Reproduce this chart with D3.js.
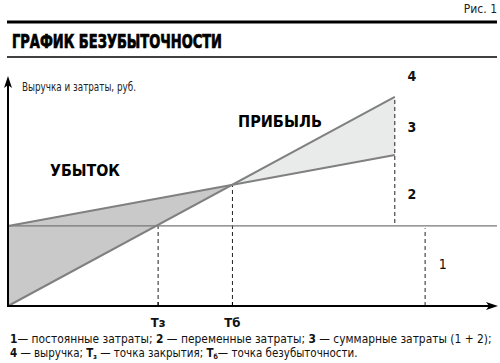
<!DOCTYPE html>
<html><head><meta charset="utf-8">
<script src="https://cdn.jsdelivr.net/npm/d3@7"></script>
<style>
html,body{margin:0;padding:0;background:#fff;}
svg{display:block;font-family:"Liberation Sans Narrow","DejaVu Sans Condensed","Arial Narrow",sans-serif;}
</style></head>
<body><svg id="c" width="500" height="363"></svg>
<script>
// ---- data (volume q in relative units, money v in relative units) ----
const fixedCost = 35.1;                       // line 1
const revenue = [[0, 0], [79.1, 91.7]];       // line 4
const totalCost = [[0, 35.1], [79.1, 66.2]];  // line 3
const breakEven = [45.9, 53.2];               // Tб
const closurePoint = [30.7, 35.1];            // Tз
const segmentLabels = ["4", "3", "2", "1"];
const segmentLabelPos = [[82.6, 98.5], [82.6, 76.2], [82.6, 46.9], [88.9, 16.2]];
const fixedMarker = 85.3;                     // dashed line for 1
const xTickLabels = ["Тз", "Тб"];
const areaLabels = ["УБЫТОК", "ПРИБЫЛЬ"];

const svg = d3.select("#c");
const x = d3.scaleLinear().domain([0, 100]).range([8, 497]);
const y = d3.scaleLinear().domain([0, 100]).range([306, 78]);

// header
svg.append("text").attr("x", 497).attr("y", 13).attr("text-anchor", "end")
  .attr("font-size", 12).attr("fill", "#222").text("Рис. 1");
svg.append("line").attr("x1", 7).attr("x2", 497).attr("y1", 22).attr("y2", 22)
  .attr("stroke", "#000").attr("stroke-width", 3);
svg.append("line").attr("x1", 7).attr("x2", 497).attr("y1", 57).attr("y2", 57)
  .attr("stroke", "#000").attr("stroke-width", 1.5);
svg.append("text").attr("x", 12).attr("y", 48).attr("font-size", 19).attr("font-weight", "bold")
  .attr("textLength", 210).attr("lengthAdjust", "spacingAndGlyphs")
  .attr("fill", "#000").style("font-family", "'DejaVu Sans Condensed','Liberation Sans Narrow',sans-serif")
  .attr("stroke", "#000").attr("stroke-width", 0.7)
  .text("ГРАФИК  БЕЗУБЫТОЧНОСТИ");

// areas
svg.append("path")
  .attr("d", d3.line()([[x(0), y(fixedCost)], [x(breakEven[0]), y(breakEven[1])], [x(0), y(0)]]) + "Z")
  .attr("fill", "#c9c9ca");
svg.append("path")
  .attr("d", d3.line()([[x(breakEven[0]), y(breakEven[1])], [x(revenue[1][0]), y(revenue[1][1])], [x(totalCost[1][0]), y(totalCost[1][1])]]) + "Z")
  .attr("fill", "#e9eaea");

// dashed verticals
const dash = "4,3";
function vdash(q, v0, v1) {
  svg.append("line").attr("x1", x(q)).attr("x2", x(q)).attr("y1", y(v0)).attr("y2", y(v1))
    .attr("stroke", "#222").attr("stroke-width", 1).attr("stroke-dasharray", dash);
}
vdash(closurePoint[0], 0, closurePoint[1]);
vdash(breakEven[0], 0, breakEven[1]);
vdash(revenue[1][0], fixedCost + 1.3, revenue[1][1]);
vdash(fixedMarker, 0, fixedCost - 1);

// fixed cost line
svg.append("line").attr("x1", x(0)).attr("x2", x(100)).attr("y1", y(fixedCost)).attr("y2", y(fixedCost))
  .attr("stroke", "#777").attr("stroke-width", 1.3);

// revenue and cost lines
const lineGen = d3.line().x(d => x(d[0])).y(d => y(d[1]));
svg.append("path").attr("d", lineGen(revenue)).attr("fill", "none").attr("stroke", "#808080").attr("stroke-width", 2);
svg.append("path").attr("d", lineGen(totalCost)).attr("fill", "none").attr("stroke", "#808080").attr("stroke-width", 2);

// axes
svg.append("line").attr("x1", x(0)).attr("x2", x(0)).attr("y1", y(0) + 1).attr("y2", 84)
  .attr("stroke", "#000").attr("stroke-width", 2);
svg.append("path").attr("d", `M${x(0)},76 L${x(0) - 4},88 L${x(0)},85 L${x(0) + 4},88 Z`).attr("fill", "#000");
svg.append("line").attr("x1", x(0) - 1).attr("x2", 490).attr("y1", y(0)).attr("y2", y(0))
  .attr("stroke", "#000").attr("stroke-width", 2);
svg.append("path").attr("d", `M498,${y(0)} L486,${y(0) - 4} L489,${y(0)} L486,${y(0) + 4} Z`).attr("fill", "#000");

// axis label
svg.append("text").attr("x", 22).attr("y", 91).attr("font-size", 11.5).attr("fill", "#222")
  .attr("textLength", 114).attr("lengthAdjust", "spacingAndGlyphs")
  .text("Выручка и затраты, руб.");

// area labels
svg.append("text").attr("x", 50).attr("y", 176).attr("font-size", 15).attr("font-weight", "bold")
  .attr("textLength", 70).attr("lengthAdjust", "spacingAndGlyphs")
  .style("font-family", "'DejaVu Sans','Liberation Sans',sans-serif").text(areaLabels[0]);
svg.append("text").attr("x", 238).attr("y", 127).attr("font-size", 15).attr("font-weight", "bold")
  .attr("textLength", 84).attr("lengthAdjust", "spacingAndGlyphs")
  .style("font-family", "'DejaVu Sans','Liberation Sans',sans-serif").text(areaLabels[1]);

// segment labels
segmentLabels.forEach((t, i) => {
  svg.append("text").attr("x", x(segmentLabelPos[i][0])).attr("y", y(segmentLabelPos[i][1]))
    .attr("text-anchor", "middle").attr("font-size", 14).attr("font-weight", i < 3 ? "bold" : "normal")
    .attr("fill", "#111").text(t);
});

// x tick labels
[closurePoint[0], breakEven[0]].forEach((q, i) => {
  svg.append("line").attr("x1", x(q)).attr("x2", x(q)).attr("y1", y(0) - 4).attr("y2", y(0))
    .attr("stroke", "#000").attr("stroke-width", 1);
  svg.append("text").attr("x", x(q)).attr("y", 327).attr("text-anchor", "middle")
    .attr("font-size", 13).attr("font-weight", "bold").attr("fill", "#111").text(xTickLabels[i]);
});

// caption: natural width, then horizontally scaled to fit
function fitLine(g, x0, y0, target) {
  const w = g.select("text").node().getComputedTextLength();
  g.attr("transform", `translate(${x0},${y0}) scale(${target / w},1)`);
}
const g1 = svg.append("g");
const cap1 = g1.append("text").attr("x", 0).attr("y", 0).attr("font-size", 11.5).attr("fill", "#111");
[["1", true], ["— постоянные затраты; ", false], ["2", true], [" — переменные затраты; ", false],
 ["3", true], [" — суммарные затраты (1 + 2);", false]].forEach(([t, b]) =>
  cap1.append("tspan").attr("font-weight", b ? "bold" : "normal").text(t));
fitLine(g1, 10, 343, 482);

const g2 = svg.append("g");
const cap2 = g2.append("text").attr("x", 0).attr("y", 0).attr("font-size", 11.5).attr("fill", "#111");
cap2.append("tspan").attr("font-weight", "bold").text("4");
cap2.append("tspan").text(" — выручка; ");
cap2.append("tspan").attr("font-weight", "bold").text("Т");
cap2.append("tspan").attr("font-size", 7).attr("dy", 2).attr("font-weight", "bold").text("з");
cap2.append("tspan").attr("dy", -2).text(" — точка закрытия; ");
cap2.append("tspan").attr("font-weight", "bold").text("Т");
cap2.append("tspan").attr("font-size", 7).attr("dy", 2).attr("font-weight", "bold").text("б");
cap2.append("tspan").attr("dy", -2).text("— точка безубыточности.");
fitLine(g2, 10, 357, 348);
</script></body></html>
